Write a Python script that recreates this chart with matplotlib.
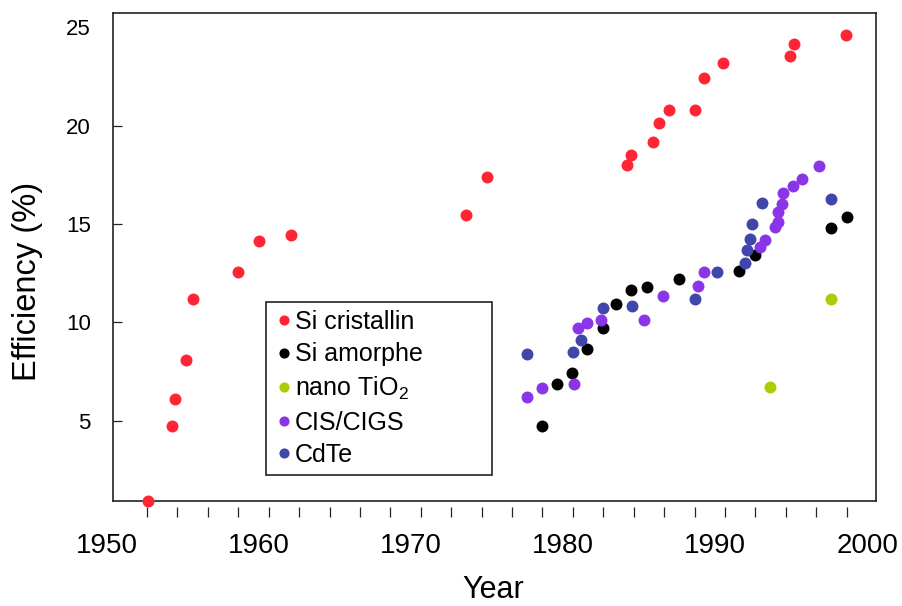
import numpy as np
import matplotlib
matplotlib.use("Agg")
import matplotlib.pyplot as plt

plt.rcParams['font.family'] = ['Liberation Sans', 'DejaVu Sans']
plt.rcParams['mathtext.fontset'] = 'custom'
plt.rcParams['mathtext.rm'] = 'Liberation Sans'
plt.rcParams['mathtext.it'] = 'Liberation Sans:italic'
plt.rcParams['mathtext.bf'] = 'Liberation Sans:bold'

# ---- data ----
si_cris_year = [1952.7, 1954.3, 1954.5, 1955.2, 1955.7, 1958.6, 1960.0, 1962.1,
                1973.6, 1975.0, 1984.2, 1984.5, 1985.9, 1986.3, 1987.0, 1988.7,
                1989.3, 1990.5, 1994.9, 1995.2, 1998.6]
si_cris_eff = [0.92, 4.72, 6.10, 8.07, 11.17, 12.55, 14.15, 14.46,
               15.47, 17.39, 18.00, 18.53, 19.16, 20.15, 20.80, 20.81,
               22.41, 23.19, 23.54, 24.14, 24.61]

si_amor_year = [1978.6, 1979.6, 1980.6, 1981.6, 1982.6, 1983.5, 1984.5, 1985.5,
                1987.6, 1991.6, 1992.6, 1997.6, 1998.7]
si_amor_eff = [4.72, 6.87, 7.44, 8.63, 9.73, 10.93, 11.65, 11.80,
               12.22, 12.61, 13.41, 14.80, 15.37]

tio2_year = [1993.6, 1997.6]
tio2_eff = [6.71, 11.20]

cigs_year = [1977.6, 1978.6, 1980.7, 1981.0, 1981.6, 1982.5, 1985.35, 1986.6,
             1988.9, 1989.3, 1992.95, 1993.3, 1993.95, 1994.15, 1994.15, 1994.4,
             1994.45, 1995.15, 1995.7, 1996.85]
cigs_eff = [6.19, 6.68, 6.85, 9.70, 9.98, 10.12, 10.12, 11.33,
            11.85, 12.55, 13.83, 14.17, 14.83, 15.10, 15.60, 16.00,
            16.56, 16.92, 17.29, 17.95]

cdte_year = [1977.6, 1980.65, 1981.15, 1982.6, 1984.55, 1988.7, 1990.1, 1991.95,
             1992.1, 1992.3, 1992.4, 1993.1, 1997.6]
cdte_eff = [8.39, 8.49, 9.10, 10.73, 10.83, 11.19, 12.56, 13.03,
            13.69, 14.22, 14.99, 16.07, 16.29]

series_labels = ['Si cristallin', 'Si amorphe', r'nano TiO$_2$', 'CIS/CIGS', 'CdTe']
series_colors = ['#FF2534', '#000000', '#A8D000', '#8B35E8', '#4046AA']

year_labels = [1950, 1960, 1970, 1980, 1990, 2000]
eff_ticks = [5, 10, 15, 20, 25]

# ---- figure ----
fig = plt.figure(figsize=(9.02, 6.06), dpi=100)
ax = fig.add_axes([113.3 / 902, 1 - 501 / 606, (875.7 - 113.3) / 902, (501 - 12.7) / 606])

series = [(si_cris_year, si_cris_eff), (si_amor_year, si_amor_eff), (tio2_year, tio2_eff),
          (cigs_year, cigs_eff), (cdte_year, cdte_eff)]
for (xs, ys), lab, col in zip(series, series_labels, series_colors):
    ax.plot(xs, ys, 'o', color=col, markersize=8.6, markeredgewidth=0,
            label=lab, clip_on=False, zorder=3)

ax.set_xlim(1950.43, 2000.56)
ax.set_ylim(0.92, 25.75)

for sp in ax.spines.values():
    sp.set_linewidth(1.2)
    sp.set_color('#222222')

# y axis
ax.set_yticks(eff_ticks)
ax.set_yticklabels([str(t) for t in eff_ticks])
ax.tick_params(axis='y', direction='in', length=6.5, width=0.9, pad=16.3,
               labelsize=16, color='#222222')
ax.yaxis.get_major_ticks()[-1].tick1line.set_visible(False)

# x axis: labels as text, ticks on a slightly offset secondary axis
ax.set_xticks([])
trans = ax.get_xaxis_transform()
for yr in year_labels:
    ax.text(yr, -0.1071, str(yr), transform=trans, ha='center', va='baseline',
            fontsize=20, clip_on=False)

sec = ax.secondary_xaxis(-5.7 / 488.3)
sec.spines['bottom'].set_visible(False)
sec.set_xticks(1952.65 + 2 * np.arange(24))
sec.tick_params(axis='x', direction='out', length=7.2, width=0.9, labelbottom=False,
                color='#222222')

fig.text(493.7 / 902, 1 - 598.3 / 606, 'Year', ha='center', va='baseline', fontsize=22)
fig.text(27.5 / 902, 1 - 281.7 / 606, 'Efficiency (%)', rotation=90,
         ha='center', va='center', fontsize=23.5)

leg = ax.legend(loc='upper left', bbox_to_anchor=(0.2003, 0.0, 0.2968, 0.4069),
                mode='expand', borderaxespad=0, fontsize=18, frameon=True,
                fancybox=False, shadow=False, framealpha=1, edgecolor='#222222',
                borderpad=0.3, labelspacing=0.34, handlelength=0.8, handletextpad=0.05,
                markerscale=0.85)
leg.get_frame().set_linewidth(1.2)

fig.savefig('out.png', dpi=100)
